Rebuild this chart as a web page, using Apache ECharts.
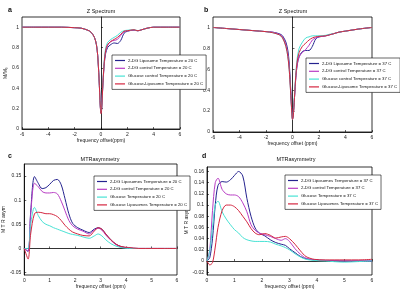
<!DOCTYPE html>
<html>
<head>
<meta charset="utf-8">
<script src="https://cdn.jsdelivr.net/npm/echarts@6/dist/echarts.min.js"></script>
<style>
  html, body { margin: 0; padding: 0; background: #fff; }
  #chart { width: 400px; height: 290px; }
</style>
</head>
<body>
<div id="chart"></div>
<script>
// panel a / b : Z spectrum (x in ppm)
const zX = [-6, -5, -4, -3, -2, -1.5, -1, -0.75, -0.5, -0.35, -0.25, -0.15, -0.05, 0, 0.05, 0.15, 0.25, 0.35, 0.5, 0.75, 1, 1.25, 1.5, 1.75, 2, 2.5, 2.8, 3.1, 3.5, 4, 5, 6];

const aBlue = [1, 1, 1, 1, 0.995, 0.99, 0.97, 0.95, 0.9, 0.83, 0.72, 0.5, 0.22, 0.16, 0.2, 0.45, 0.64, 0.74, 0.8, 0.83, 0.845, 0.84, 0.87, 0.94, 0.96, 0.97, 0.965, 0.975, 0.99, 1, 1, 1];
const aMag  = [1, 1, 1, 1, 0.995, 0.99, 0.97, 0.95, 0.9, 0.83, 0.72, 0.5, 0.22, 0.17, 0.21, 0.46, 0.66, 0.76, 0.82, 0.86, 0.87, 0.88, 0.92, 0.955, 0.965, 0.97, 0.965, 0.975, 0.99, 1, 1, 1];
const aCyan = [1, 1, 1, 1, 0.995, 0.99, 0.97, 0.95, 0.9, 0.83, 0.72, 0.5, 0.22, 0.16, 0.2, 0.47, 0.68, 0.79, 0.85, 0.88, 0.9, 0.92, 0.95, 0.965, 0.97, 0.975, 0.965, 0.975, 0.99, 1, 1, 1];
const aRed  = [1, 1, 1, 1, 0.995, 0.99, 0.97, 0.95, 0.9, 0.83, 0.72, 0.5, 0.21, 0.15, 0.19, 0.46, 0.66, 0.77, 0.83, 0.86, 0.88, 0.9, 0.93, 0.96, 0.965, 0.975, 0.965, 0.975, 0.99, 1, 1, 1];

const bBlue = [1, 0.99, 0.98, 0.97, 0.96, 0.955, 0.94, 0.92, 0.86, 0.78, 0.66, 0.45, 0.2, 0.13, 0.15, 0.33, 0.52, 0.64, 0.72, 0.77, 0.78, 0.78, 0.82, 0.89, 0.91, 0.92, 0.93, 0.94, 0.955, 0.965, 0.985, 1];
const bMag  = [1, 0.99, 0.98, 0.97, 0.96, 0.955, 0.935, 0.91, 0.84, 0.74, 0.62, 0.42, 0.19, 0.12, 0.15, 0.33, 0.52, 0.64, 0.72, 0.76, 0.79, 0.83, 0.88, 0.9, 0.91, 0.92, 0.93, 0.94, 0.955, 0.965, 0.985, 1];
const bCyan = [1, 0.99, 0.98, 0.97, 0.96, 0.95, 0.93, 0.9, 0.82, 0.72, 0.6, 0.4, 0.18, 0.12, 0.15, 0.35, 0.56, 0.7, 0.8, 0.86, 0.9, 0.91, 0.92, 0.92, 0.92, 0.925, 0.935, 0.94, 0.955, 0.965, 0.985, 1];
const bRed  = [1, 0.99, 0.98, 0.97, 0.96, 0.95, 0.93, 0.9, 0.82, 0.72, 0.6, 0.4, 0.18, 0.12, 0.14, 0.33, 0.54, 0.67, 0.76, 0.82, 0.85, 0.88, 0.9, 0.91, 0.915, 0.92, 0.93, 0.94, 0.955, 0.965, 0.985, 1];

// panel c : MTR asymmetry 20 C
const cX = [0, 0.15, 0.25, 0.4, 0.55, 0.7, 0.85, 1.0, 1.15, 1.3, 1.45, 1.6, 1.75, 1.9, 2.1, 2.3, 2.55, 2.75, 2.9, 3.05, 3.2, 3.4, 3.6, 3.8, 4.1, 4.5, 5, 5.5, 6];
const cBlue = [0, -0.006, 0.075, 0.149, 0.135, 0.124, 0.126, 0.133, 0.141, 0.143, 0.132, 0.103, 0.072, 0.052, 0.043, 0.038, 0.033, 0.04, 0.043, 0.04, 0.03, 0.018, 0.009, 0.004, 0.001, 0, 0, 0, 0];
const cMag  = [0, -0.006, 0.07, 0.135, 0.128, 0.118, 0.115, 0.115, 0.116, 0.113, 0.098, 0.078, 0.058, 0.047, 0.04, 0.036, 0.03, 0.038, 0.042, 0.038, 0.028, 0.017, 0.008, 0.003, 0.001, 0, 0, 0, 0];
const cCyan = [0, 0, 0.05, 0.085, 0.068, 0.056, 0.05, 0.047, 0.043, 0.04, 0.037, 0.034, 0.031, 0.029, 0.027, 0.024, 0.021, 0.026, 0.03, 0.026, 0.018, 0.01, 0.005, 0.002, 0, 0, 0, 0, 0];
const cRed  = [0, -0.022, 0.03, 0.072, 0.075, 0.074, 0.072, 0.072, 0.07, 0.066, 0.058, 0.048, 0.04, 0.034, 0.03, 0.027, 0.026, 0.036, 0.043, 0.04, 0.03, 0.018, 0.009, 0.004, 0.002, 0, 0, 0, 0];

// panel d : MTR asymmetry 37 C
const dX = [0, 0.1, 0.2, 0.3, 0.4, 0.55, 0.7, 0.85, 1.0, 1.15, 1.3, 1.45, 1.6, 1.75, 1.9, 2.1, 2.3, 2.5, 2.7, 2.85, 3.0, 3.2, 3.4, 3.6, 3.9, 4.3, 5, 5.5, 6];
const dBlue = [0, 0.006, 0.04, 0.1, 0.135, 0.142, 0.141, 0.145, 0.153, 0.16, 0.152, 0.112, 0.08, 0.059, 0.05, 0.045, 0.038, 0.033, 0.03, 0.028, 0.022, 0.015, 0.008, 0.004, 0.002, 0.001, 0, 0, 0];
const dMag  = [0, 0.02, 0.09, 0.14, 0.148, 0.128, 0.12, 0.118, 0.118, 0.115, 0.104, 0.088, 0.065, 0.055, 0.05, 0.047, 0.044, 0.04, 0.037, 0.04, 0.035, 0.022, 0.012, 0.005, 0.002, 0.001, 0, 0, 0];
const dCyan = [0, 0.018, 0.06, 0.1, 0.107, 0.088, 0.075, 0.065, 0.056, 0.05, 0.042, 0.038, 0.036, 0.035, 0.035, 0.035, 0.034, 0.03, 0.027, 0.024, 0.02, 0.013, 0.007, 0.003, 0.001, 0, -0.002, -0.001, 0];
const dRed  = [0, -0.007, -0.003, 0.025, 0.06, 0.09, 0.1, 0.1, 0.097, 0.09, 0.08, 0.07, 0.058, 0.05, 0.047, 0.049, 0.046, 0.041, 0.043, 0.044, 0.04, 0.03, 0.018, 0.008, 0.003, 0.002, 0.002, 0.002, 0.003];

const namesA = ['2-DG Liposome Temperature = 20 C', '2-DG control Temperature = 20 C', 'Glucose control Temperature = 20 C', 'Glucose-Liposome Temperature = 20 C'];
const namesB = ['2-DG Liposome Temperature = 37 C', '2-DG control Temperature = 37 C', 'Glucose control Temperature = 37 C', 'Glucose-Liposome Temperature = 37 C'];
const namesC = ['2-DG Liposomes Temperature = 20 C', '2-DG control Temperature = 20 C ', 'Glucose Temperature = 20 C', 'Glucose Liposomes Temperature = 20 C'];
const namesD = ['2-DG Liposomes Temperature = 37 C', '2-DG control Temperature = 37 C ', 'Glucose Temperature = 37 C', 'Glucose Liposomes Temperature = 37 C'];

const mtrTicksC = [-0.05, 0, 0.05, 0.1, 0.15];
const mtrTicksD = [-0.02, 0, 0.02, 0.04, 0.06, 0.08, 0.1, 0.12, 0.14, 0.16];

const colors = ['#25238f', '#b83cc4', '#48e2d4', '#d42640'];
const FONT = 'Liberation Sans';
const NARROW = '"Liberation Sans Narrow", "Liberation Sans", sans-serif';

const chart = echarts.init(document.getElementById('chart'));

const pairs = (xs, ys) => xs.map((x, i) => [x, ys[i]]);
const fmt = v => String(+v.toFixed(3));

const grids = [
    { left: 22, top: 17, width: 158, height: 112 },
    { left: 213, top: 17, width: 159, height: 115 },
    { left: 21, top: 164, width: 156, height: 112 },
    { left: 207, top: 167, width: 165, height: 109 }
].map(g => Object.assign(g, { show: true, borderColor: '#000', borderWidth: 0.8, backgroundColor: '#fff' }));

const axisCommon = {
    axisLine: { show: true, lineStyle: { color: '#000', width: 0.8 } },
    axisTick: { show: true, inside: true, length: 2, lineStyle: { color: '#000', width: 0.6 } },
    axisLabel: { color: '#222', fontSize: 5, fontFamily: FONT, margin: 3 },
    splitLine: { show: false },
    nameTextStyle: { color: '#222', fontSize: 5, fontFamily: FONT }
};

const xName = ['frequency offset(ppm)', 'frequency offset (ppm)', 'frequency offset (ppm)', 'frequency offset (ppm)'];
const xAxes = [0, 1, 2, 3].map(i => Object.assign({}, axisCommon, {
    gridIndex: i,
    type: 'value',
    min: i < 2 ? -6 : 0,
    max: 6,
    interval: i < 2 ? 2 : 1,
    name: xName[i],
    nameLocation: 'middle',
    nameGap: 9
}));

const yAxes = [
    Object.assign({}, axisCommon, { gridIndex: 0, type: 'value', min: 0, max: 1.1, interval: 0.2,
        axisLabel: Object.assign({}, axisCommon.axisLabel, { showMaxLabel: false, formatter: fmt }),
        name: 'M/M₀', nameLocation: 'middle', nameRotate: 90, nameGap: 10 }),
    Object.assign({}, axisCommon, { gridIndex: 1, type: 'value', min: 0, max: 1.1, interval: 0.2,
        axisLabel: Object.assign({}, axisCommon.axisLabel, { showMaxLabel: false, formatter: fmt }),
        name: 'M/M₀', nameLocation: 'middle', nameRotate: 90, nameGap: 10 }),
    Object.assign({}, axisCommon, { gridIndex: 2, type: 'value', min: -0.055, max: 0.175,
        axisLabel: Object.assign({}, axisCommon.axisLabel, { customValues: mtrTicksC, formatter: fmt }),
        axisTick: Object.assign({}, axisCommon.axisTick, { customValues: mtrTicksC }),
        name: 'M T R asym', nameLocation: 'middle', nameRotate: 90, nameGap: 12 }),
    Object.assign({}, axisCommon, { gridIndex: 3, type: 'value', min: -0.025, max: 0.168,
        axisLabel: Object.assign({}, axisCommon.axisLabel, { customValues: mtrTicksD, formatter: fmt }),
        axisTick: Object.assign({}, axisCommon.axisTick, { customValues: mtrTicksD }),
        name: 'M T R asym', nameLocation: 'middle', nameRotate: 90, nameGap: 12 })
];

const panels = [
    { x: zX, ys: [aBlue, aMag, aCyan, aRed], names: namesA },
    { x: zX, ys: [bBlue, bMag, bCyan, bRed], names: namesB },
    { x: cX, ys: [cBlue, cMag, cCyan, cRed], names: namesC },
    { x: dX, ys: [dBlue, dMag, dCyan, dRed], names: namesD }
];

const series = [];
panels.forEach((p, gi) => {
    p.ys.forEach((ys, k) => {
        series.push({
            type: 'line',
            name: p.names[k],
            xAxisIndex: gi,
            yAxisIndex: gi,
            data: pairs(p.x, ys),
            smooth: 0.3,
            symbol: 'none',
            lineStyle: { color: colors[k], width: 1 },
            itemStyle: { color: colors[k] },
            z: 2 + k
        });
    });
});

// legend boxes
const legendPos = [
    { left: 112, top: 55 },
    { left: 306, top: 58 },
    { left: 94, top: 176 },
    { left: 285, top: 175 }
];
const legends = panels.map((p, i) => Object.assign({
    data: p.names,
    orient: 'vertical',
    icon: 'rect',
    itemWidth: 10,
    itemHeight: 1.2,
    itemGap: 2.8,
    padding: [3, 3, 3, 3],
    borderColor: '#000',
    borderWidth: 0.6,
    backgroundColor: '#fff',
    selectedMode: false,
    textStyle: { fontSize: 4.3, fontFamily: NARROW, color: '#111', lineHeight: 5, padding: [0, 0, 0, -2] }
}, legendPos[i]));

const titleStyle = { fontSize: 5.5, fontWeight: 'normal', fontFamily: FONT, color: '#111' };
const letterStyle = { fontSize: 7, fontWeight: 'bold', fontFamily: FONT, color: '#111' };
const titles = [
    { text: 'Z Spectrum', left: 101, top: 8, textAlign: 'center', textStyle: titleStyle },
    { text: 'Z Spectrum', left: 293, top: 8, textAlign: 'center', textStyle: titleStyle },
    { text: 'MTRasymmetry', left: 100, top: 156, textAlign: 'center', textStyle: titleStyle },
    { text: 'MTRasymmetry', left: 296, top: 156, textAlign: 'center', textStyle: titleStyle },
    { text: 'a', left: 8, top: 7, textStyle: letterStyle },
    { text: 'b', left: 204, top: 7, textStyle: letterStyle },
    { text: 'c', left: 8, top: 153, textStyle: letterStyle },
    { text: 'd', left: 202, top: 153, textStyle: letterStyle }
].map(t => Object.assign(t, { padding: 0 }));

chart.setOption({
    animation: false,
    backgroundColor: '#fff',
    title: titles,
    legend: legends,
    grid: grids,
    xAxis: xAxes,
    yAxis: yAxes,
    series: series
});
</script>
</body>
</html>
